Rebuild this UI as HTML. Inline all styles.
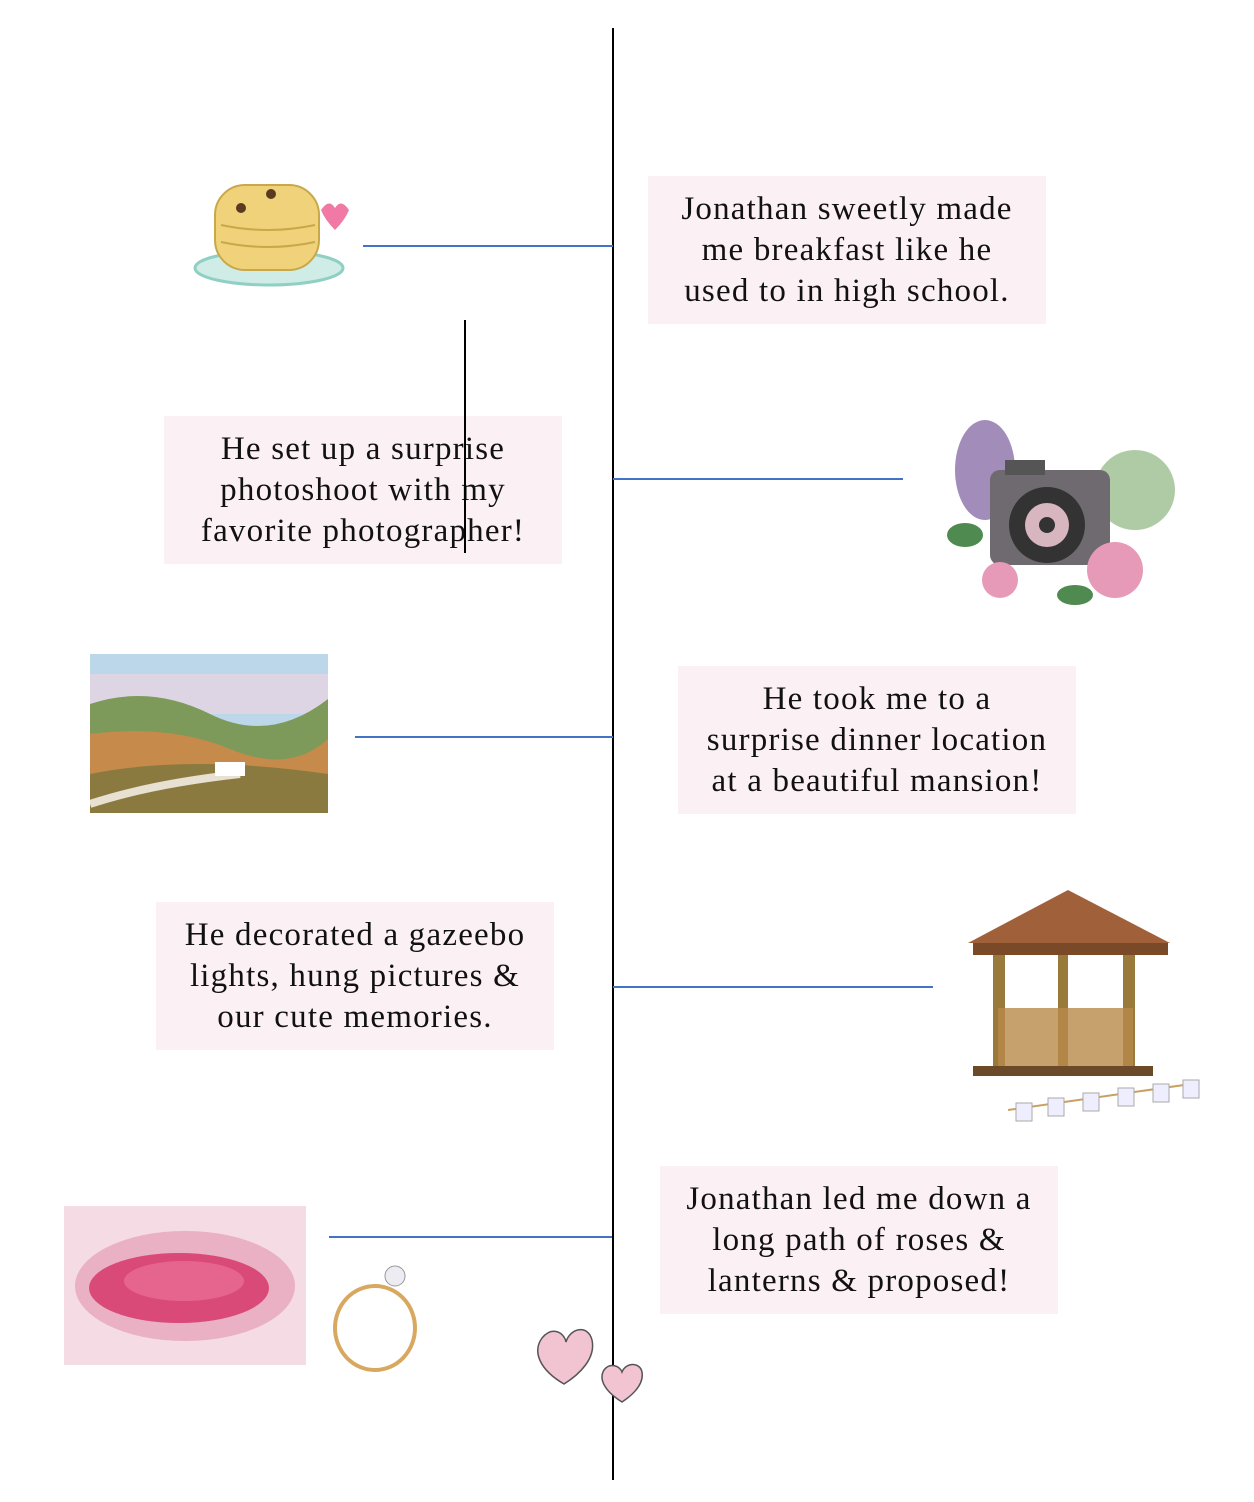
<!DOCTYPE html>
<html><head><meta charset="utf-8"><style>
html,body{margin:0;padding:0;background:#fff;}
body{width:1254px;height:1502px;position:relative;overflow:hidden;font-family:"Liberation Serif",serif;}
.v{position:absolute;background:#000;width:2px;}
.h{position:absolute;background:#4472c4;height:2px;}
.box{position:absolute;width:398px;height:148px;background:#fbf0f3;display:flex;align-items:center;justify-content:center;text-align:center;font-size:33px;letter-spacing:1.2px;line-height:41px;color:#111;white-space:nowrap;}
svg{position:absolute;}
</style></head><body>
<div class="v" style="left:612px;top:28px;height:1452px"></div>
<div class="h" style="left:363px;top:245px;width:250px"></div>
<div class="h" style="left:613px;top:478px;width:290px"></div>
<div class="h" style="left:355px;top:736px;width:258px"></div>
<div class="h" style="left:613px;top:986px;width:320px"></div>
<div class="h" style="left:329px;top:1236px;width:283px"></div>

<div class="box" style="left:648px;top:176px">Jonathan sweetly made<br>me breakfast like he<br>used to in high school.</div>
<div class="box" style="left:164px;top:416px">He set up a surprise<br>photoshoot with my<br>favorite photographer!</div>
<div class="v" style="left:464px;top:320px;height:233px;width:1.5px"></div>
<div class="box" style="left:678px;top:666px">He took me to a<br>surprise dinner location<br>at a beautiful mansion!</div>
<div class="box" style="left:156px;top:902px">He decorated a gazeebo<br>lights, hung pictures &amp;<br>our cute memories.</div>
<div class="box" style="left:660px;top:1166px">Jonathan led me down a<br>long path of roses &amp;<br>lanterns &amp; proposed!</div>

<!-- pancakes -->
<svg style="left:193px;top:180px" width="162" height="115">
<ellipse cx="76" cy="88" rx="74" ry="17" fill="#cfece6" stroke="#8fcfc4" stroke-width="3"/>
<rect x="22" y="5" width="104" height="85" rx="30" fill="#f0d27a" stroke="#c9a84a" stroke-width="2"/>
<path d="M28 45 Q75 55 122 45 M28 62 Q75 72 122 62" stroke="#c9a84a" fill="none" stroke-width="2"/>
<circle cx="48" cy="28" r="5" fill="#5a3b20"/><circle cx="78" cy="14" r="5" fill="#5a3b20"/>
<path d="M128 30 q8-12 14-2 q6-10 14 2 q-4 10 -14 20 q-10-10 -14-20z" fill="#f07aa5"/>
</svg>
<!-- camera -->
<svg style="left:935px;top:410px" width="260" height="210">
<ellipse cx="50" cy="60" rx="30" ry="50" fill="#8b6fa8" opacity=".8"/>
<ellipse cx="200" cy="80" rx="40" ry="40" fill="#7aa86a" opacity=".6"/>
<rect x="55" y="60" width="120" height="95" rx="10" fill="#6e6a70"/>
<rect x="70" y="50" width="40" height="15" fill="#555"/>
<circle cx="112" cy="115" r="38" fill="#333"/><circle cx="112" cy="115" r="22" fill="#d8b6c0"/><circle cx="112" cy="115" r="8" fill="#333"/>
<circle cx="180" cy="160" r="28" fill="#e79ab7"/><circle cx="65" cy="170" r="18" fill="#e79ab7"/>
<ellipse cx="30" cy="125" rx="18" ry="12" fill="#4f8a50"/><ellipse cx="140" cy="185" rx="18" ry="10" fill="#4f8a50"/>
</svg>
<!-- landscape -->
<svg style="left:90px;top:654px" width="238" height="159">
<rect width="238" height="159" fill="#bcd6ea"/>
<rect width="238" height="40" fill="#f3d3df" opacity=".6" y="20"/>
<path d="M0 50 Q60 30 120 60 T238 45 V159 H0Z" fill="#7e9a5a"/>
<path d="M0 80 Q80 70 140 95 T238 85 V159 H0Z" fill="#c68a4a"/>
<path d="M0 120 Q100 100 238 120 V159 H0Z" fill="#8a7a40"/>
<path d="M0 150 Q60 130 150 120" stroke="#e8e0d0" stroke-width="8" fill="none"/>
<rect x="125" y="108" width="30" height="14" fill="#fff"/>
</svg>
<!-- gazebo -->
<svg style="left:948px;top:888px" width="255" height="250">
<path d="M20 55 L120 2 L222 55 Z" fill="#a0613a"/>
<rect x="25" y="55" width="195" height="12" fill="#7a4a28"/>
<rect x="45" y="67" width="12" height="115" fill="#9a7a3a"/><rect x="175" y="67" width="12" height="115" fill="#9a7a3a"/><rect x="110" y="67" width="10" height="115" fill="#9a7a3a"/>
<rect x="50" y="120" width="135" height="62" fill="#b8894a" opacity=".8"/>
<rect x="25" y="178" width="180" height="10" fill="#6b4a2a"/>
<path d="M60 222 L250 195" stroke="#c9a060" stroke-width="2"/>
<g fill="#eef" stroke="#aaa"><rect x="68" y="215" width="16" height="18"/><rect x="100" y="210" width="16" height="18"/><rect x="135" y="205" width="16" height="18"/><rect x="170" y="200" width="16" height="18"/><rect x="205" y="196" width="16" height="18"/><rect x="235" y="192" width="16" height="18"/></g>
</svg>
<!-- petals -->
<svg style="left:64px;top:1206px" width="242" height="159">
<rect width="242" height="159" fill="#f5dbe4"/>
<ellipse cx="121" cy="80" rx="110" ry="55" fill="#eab0c4"/>
<ellipse cx="115" cy="82" rx="90" ry="35" fill="#d94a78"/>
<ellipse cx="120" cy="75" rx="60" ry="20" fill="#e6658f"/>
</svg>
<!-- ring -->
<svg style="left:330px;top:1260px" width="95" height="115">
<ellipse cx="45" cy="68" rx="40" ry="42" fill="none" stroke="#d9a860" stroke-width="4"/>
<circle cx="65" cy="16" r="10" fill="#ececf2" stroke="#999"/>
</svg>
<!-- hearts -->
<svg style="left:530px;top:1322px" width="120" height="88">
<path d="M34 62 C10 48 2 30 12 16 C22 4 34 10 36 20 C40 6 58 2 62 18 C66 36 50 52 34 62Z" fill="#f2c4d2" stroke="#555" stroke-width="1.5"/>
<path d="M92 80 C76 70 68 58 74 48 C80 40 90 44 92 50 C96 40 110 40 112 50 C114 62 104 72 92 80Z" fill="#f2c4d2" stroke="#555" stroke-width="1.5"/>
</svg>
</body></html>
